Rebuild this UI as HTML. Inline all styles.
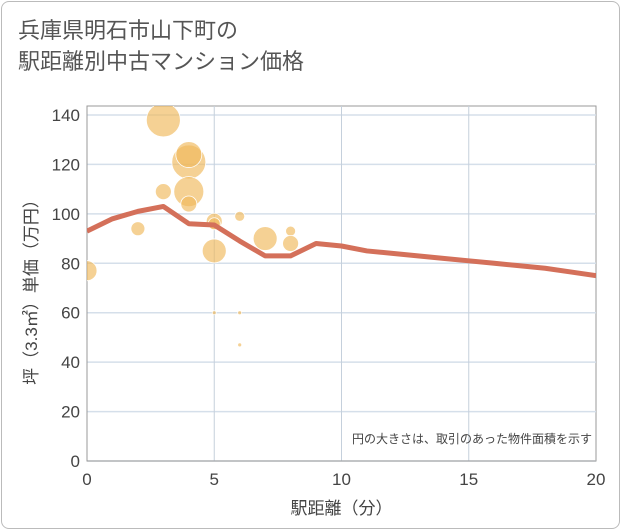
<!DOCTYPE html>
<html><head><meta charset="utf-8"><style>
body{margin:0;background:#fff;font-family:"Liberation Sans","Noto Sans CJK JP",sans-serif;}
.frame{position:absolute;left:1px;top:1px;width:617px;height:526px;border:1px solid #bbb;border-radius:8px;background:#fff;}
.title{position:absolute;left:18px;top:15px;font-size:22px;line-height:31px;color:#555;font-family:"Liberation Sans","Noto Sans CJK JP",sans-serif;}
</style></head><body>
<div class="frame"></div>
<div class="title">兵庫県明石市山下町の<br>駅距離別中古マンション価格</div>
<svg id="chart" width="621" height="530" style="position:absolute;left:0;top:0" font-family="Liberation Sans, Noto Sans CJK JP, sans-serif"><defs><clipPath id="pc"><rect x="87" y="106" width="509" height="355"/></clipPath></defs></svg>
<script>
const xTicks=[0,5,10,15,20];
const yTicks=[0,20,40,60,80,100,120,140];
const bubbleX=[0,2,3,3,4,4,4,4,5,5,5,6,5,6,6,7,8,8];
const bubbleY=[77,94,138,109,121,124,109,104,97,96,85,99,60,60,47,90,93,88];
const bubbleR=[10,7,17,8,17,13,15,8,8,6,12,5,2,2,2,12,5,8];
const lineX=[0,1,2,3,4,5,6,7,8,9,10,11,12,13,14,15,16,17,18,19,20];
const lineY=[93,98,101,103,96,95.5,89,83,83,88,87,85,84,83,82,81,80,79,78,76.5,75];
const NS="http://www.w3.org/2000/svg";
const svg=document.getElementById('chart');
const L=87,R=596,T=106,B=461;
const sx=v=>L+(v/20)*(R-L);
const sy=v=>B-(v/140)*(B-115);
function mk(t,a,p){const e=document.createElementNS(NS,t);for(const k in a)e.setAttribute(k,a[k]);(p||svg).appendChild(e);return e;}
const bg=mk('rect',{x:L,y:T,width:R-L,height:B-T,fill:'#fff',stroke:'#999'});


yTicks.forEach(v=>{
 const g=mk('line',{x1:L,x2:R,y1:sy(v),y2:sy(v),stroke:'#d5dfea','stroke-width':1.5});
 
 
 const t=mk('text',{x:L-7,y:sy(v)+6,'text-anchor':'end','font-size':17,fill:'#444'});
 t.textContent=v;
 
 
});
xTicks.forEach(v=>{
 if(v>0&&v<20){const g=mk('line',{x1:sx(v),x2:sx(v),y1:T,y2:B,stroke:'#c5d0dc','stroke-width':1});
 
 }
 const t=mk('text',{x:sx(v),y:B+24,'text-anchor':'middle','font-size':17,fill:'#444'});
 t.textContent=v;
 
 
});
const ax=mk('line',{x1:L,x2:L,y1:T,y2:B,stroke:'#999'});


const ax2=mk('line',{x1:L,x2:R,y1:B,y2:B,stroke:'#999'});


const gp=mk('g',{'clip-path':'url(#pc)'});


bubbleX.forEach((x,i)=>{
 const c=mk('circle',{cx:sx(x),cy:sy(bubbleY[i]),r:bubbleR[i],fill:'#f0b85a','fill-opacity':0.65,stroke:'#fff','stroke-width':0.8},gp);
 
 
});
const pl=mk('polyline',{points:lineX.map((x,i)=>sx(x)+','+sy(lineY[i])).join(' '),fill:'none',stroke:'#d4705a','stroke-width':5,'stroke-linejoin':'round'},gp);


const note=mk('text',{x:592,y:443,'text-anchor':'end','font-size':12,fill:'#444'});
note.textContent='円の大きさは、取引のあった物件面積を示す';


const xt=mk('text',{x:sx(10),y:514,'text-anchor':'middle','font-size':17,fill:'#444'});
xt.textContent='駅距離（分）';


const yt=mk('text',{x:0,y:0,'text-anchor':'middle','font-size':17,fill:'#444',transform:'translate(37,'+sy(70)+') rotate(-90)'});
yt.textContent='坪（3.3㎡）単価（万円）';


</script>
</body></html>
